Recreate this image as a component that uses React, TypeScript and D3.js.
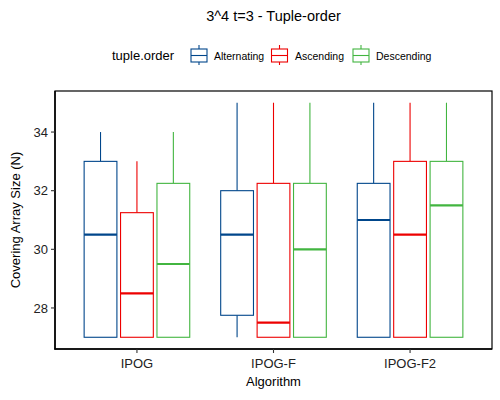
import React from "react";
import * as d3 from "d3";

const title = "3^4 t=3 - Tuple-order";
const algorithms = ["IPOG", "IPOG-F", "IPOG-F2"];
const orders = ["Alternating", "Ascending", "Descending"];
const colors = ["#00468B", "#ED0000", "#42B540"];
const yTicks = [28, 30, 32, 34];

// [algorithm][order] -> [whiskerLow, q1, median, q3, whiskerHigh]
const ipogStats = [
  [27, 27, 30.5, 33, 34],
  [27, 27, 28.5, 31.25, 33],
  [27, 27, 29.5, 32.25, 34],
];
const ipogFStats = [
  [27, 27.75, 30.5, 32, 35],
  [27, 27, 27.5, 32.25, 35],
  [27, 27, 30, 32.25, 35],
];
const ipogF2Stats = [
  [27, 27, 31, 32.25, 35],
  [27, 27, 30.5, 33, 35],
  [27, 27, 31.5, 33, 35],
];
const stats = [ipogStats, ipogFStats, ipogF2Stats];

const W = 500;
const H = 400;
const margin = { left: 55, right: 8, top: 91, bottom: 51 };
const font = "'Liberation Sans', Arial, Helvetica, sans-serif";

export default function App() {
  const x0 = margin.left;
  const x1 = W - margin.right;
  const y0 = margin.top;
  const y1 = H - margin.bottom;

  const x = d3.scaleLinear().domain([0.4, 3.6]).range([x0, x1]);
  const y = d3.scaleLinear().domain([26.6, 35.4]).range([y1, y0]);

  const slot = 0.8 / 3;
  const boxW = slot * 0.9;
  const px = (u: number) => x(u) - x(0);

  return (
    <svg width={W} height={H} style={{ position: "absolute", left: 0, top: 0 }} fontFamily={font}>
      <rect x={0} y={0} width={W} height={H} fill="white" />
      <text x={(x0 + x1) / 2} y={21} textAnchor="middle" fontSize={14.5} fill="#000">
        {title}
      </text>

      {/* legend */}
      <text x={112} y={60} fontSize={13} fill="#000">tuple.order</text>
      {orders.map((o, i) => {
        const kx = [190, 270.5, 352][i];
        const lx = [214, 295, 376][i];
        const c = colors[i];
        return (
          <g key={o}>
            <line x1={kx + 9} x2={kx + 9} y1={45} y2={65} stroke={c} strokeWidth={1.1} />
            <rect x={kx + 1} y={49} width={16} height={13} fill="white" stroke={c} strokeWidth={1.1} />
            <line x1={kx + 1} x2={kx + 17} y1={55.5} y2={55.5} stroke={c} strokeWidth={1.1} />
            <text x={lx} y={59.5} fontSize={10.5} fill="#000">{o}</text>
          </g>
        );
      })}

      {/* panel */}
      <rect x={x0} y={y0} width={x1 - x0} height={y1 - y0} fill="white" stroke="#000" strokeWidth={1.2} />

      {stats.map((group, gi) =>
        group.map((s, oi) => {
          const cx = x(gi + 1) + px((oi - 1) * slot);
          const hw = px(boxW) / 2;
          const c = colors[oi];
          const [wl, q1, med, q3, wh] = s;
          return (
            <g key={`${gi}-${oi}`}>
              <line x1={cx} x2={cx} y1={y(q3)} y2={y(wh)} stroke={c} strokeWidth={1.1} />
              <line x1={cx} x2={cx} y1={y(q1)} y2={y(wl)} stroke={c} strokeWidth={1.1} />
              <rect x={cx - hw} y={y(q3)} width={hw * 2} height={y(q1) - y(q3)} fill="white" stroke={c} strokeWidth={1.1} />
              <line x1={cx - hw} x2={cx + hw} y1={y(med)} y2={y(med)} stroke={c} strokeWidth={2.2} />
            </g>
          );
        })
      )}

      {/* axes */}
      <line x1={x0} x2={x0} y1={y0} y2={y1 + 0.6} stroke="#000" strokeWidth={1.5} />
      <line x1={x0 - 0.6} x2={x1} y1={y1} y2={y1} stroke="#000" strokeWidth={1.5} />
      {yTicks.map((t) => (
        <g key={t}>
          <line x1={x0 - 4} x2={x0} y1={y(t)} y2={y(t)} stroke="#333" strokeWidth={1.1} />
          <text x={x0 - 7} y={y(t) + 4.6} textAnchor="end" fontSize={13} fill="#222">{t}</text>
        </g>
      ))}
      {algorithms.map((a, i) => (
        <g key={a}>
          <line x1={x(i + 1)} x2={x(i + 1)} y1={y1} y2={y1 + 4} stroke="#333" strokeWidth={1.1} />
          <text x={x(i + 1)} y={367.5} textAnchor="middle" fontSize={13} fill="#222">{a}</text>
        </g>
      ))}
      <text x={(x0 + x1) / 2} y={386} textAnchor="middle" fontSize={13} fill="#000">Algorithm</text>
      <text
        transform={`translate(19.5, ${(y0 + y1) / 2}) rotate(-90)`}
        textAnchor="middle"
        fontSize={13}
        fill="#000"
      >
        Covering Array Size (N)
      </text>
    </svg>
  );
}
